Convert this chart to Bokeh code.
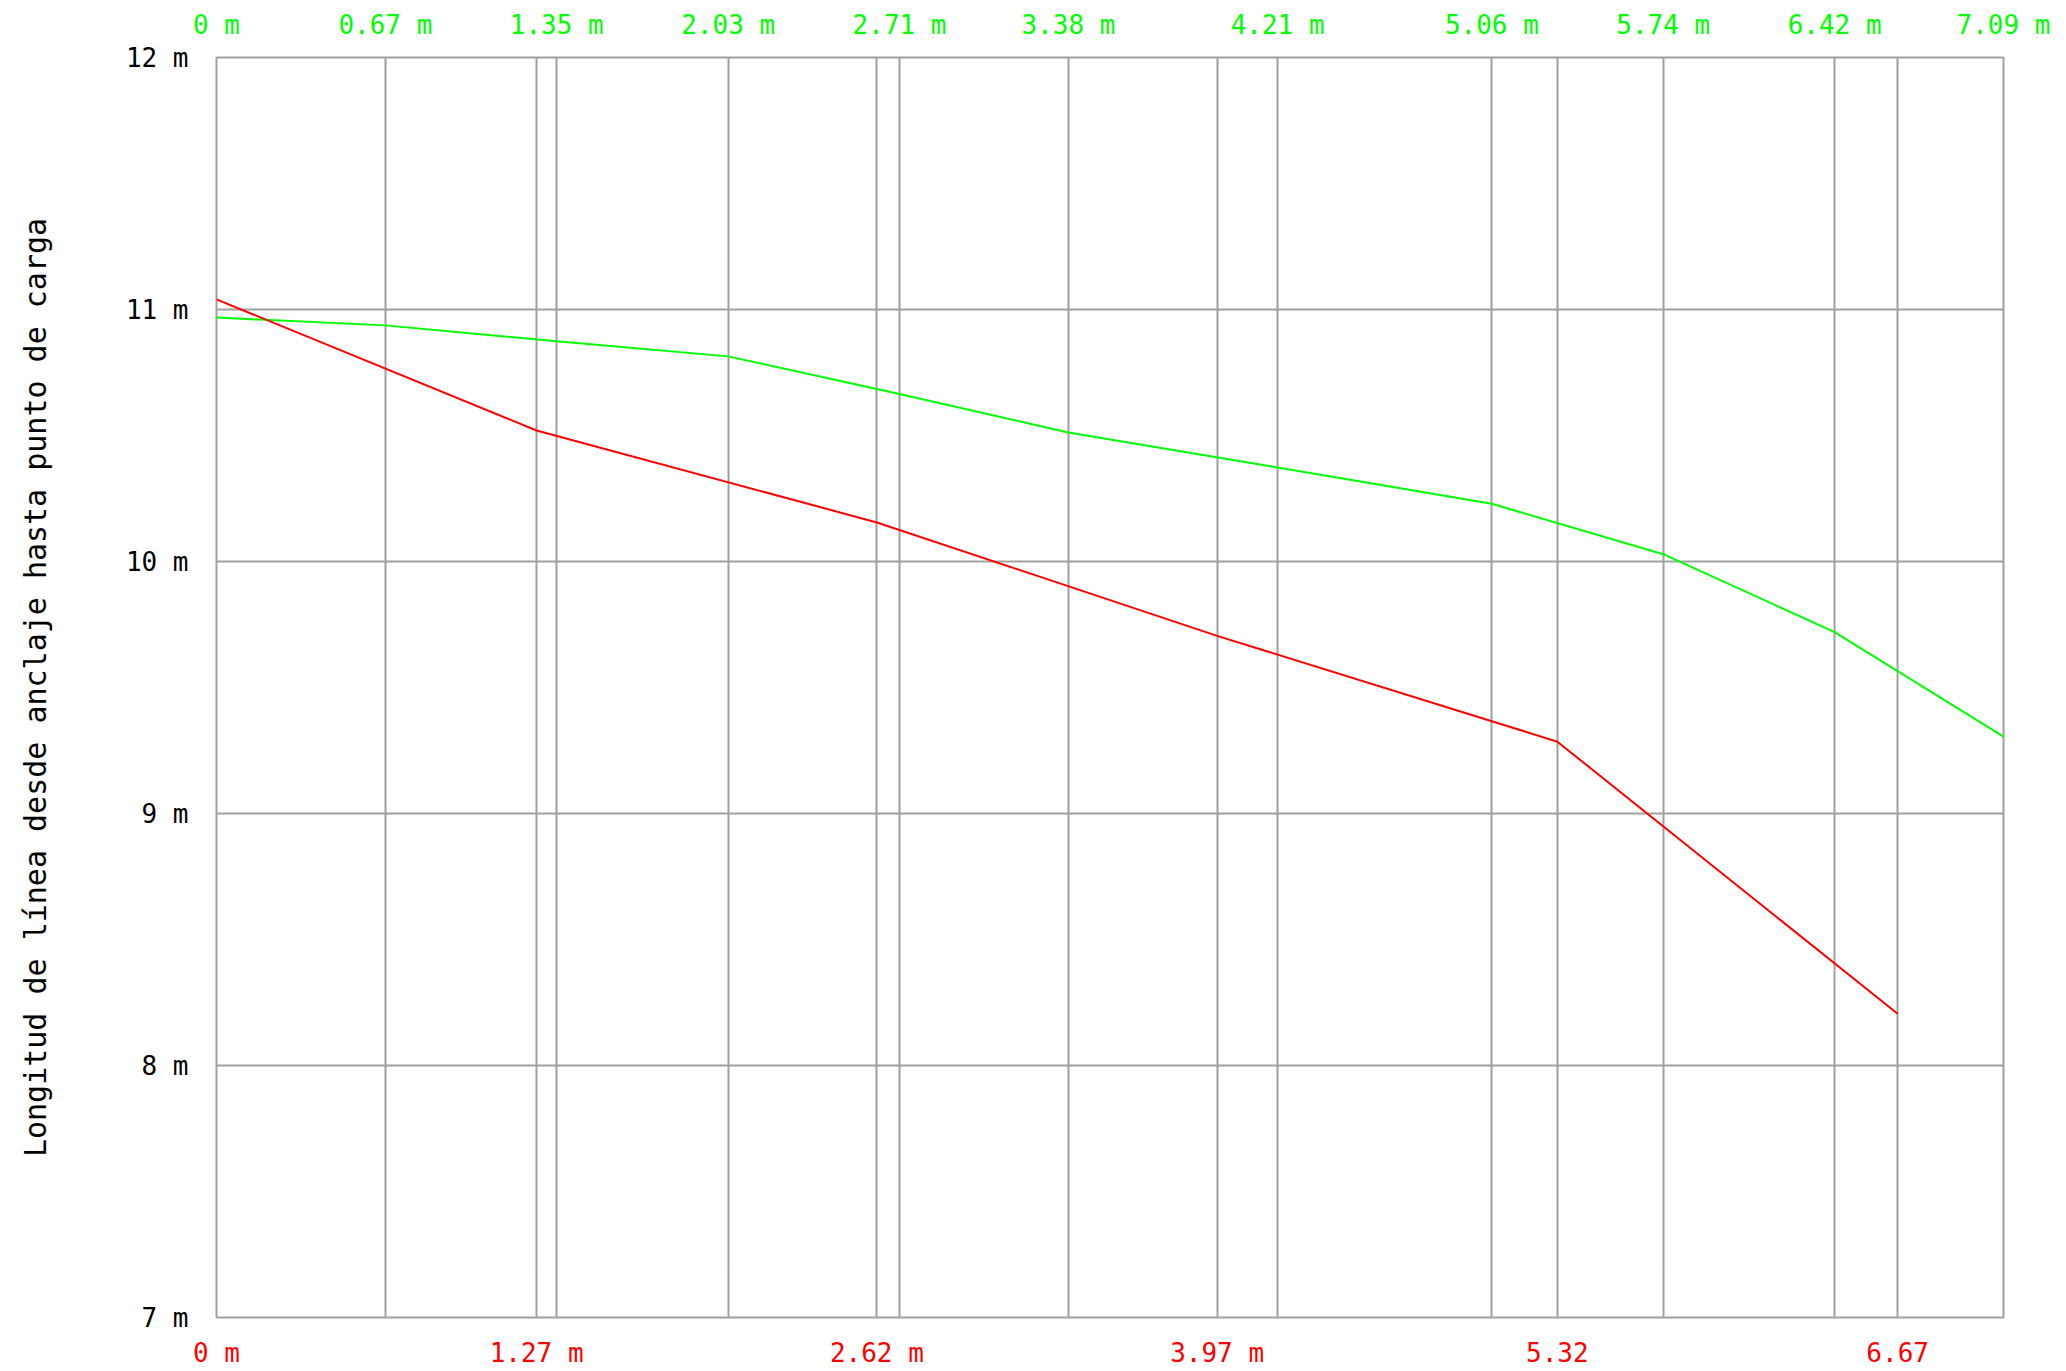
from bokeh.plotting import figure
from bokeh.models import Range1d, LinearAxis, FixedTicker
from bokeh.embed import file_html
from bokeh.resources import INLINE

# ---- data ----
y_ticks = [7, 8, 9, 10, 11, 12]
y_tick_labels = ["7 m", "8 m", "9 m", "10 m", "11 m", "12 m"]

red_x = [0, 1.27, 2.62, 3.97, 5.32, 6.67]
red_y = [11.04, 10.52, 10.155, 9.705, 9.285, 8.205]
red_tick_labels = ["0 m", "1.27 m", "2.62 m", "3.97 m", "5.32", "6.67"]

green_x = [0, 0.67, 1.35, 2.03, 2.71, 3.38, 4.21, 5.06, 5.74, 6.42, 7.09]
green_y = [10.968, 10.937, 10.874, 10.814, 10.665, 10.512, 10.373, 10.229, 10.029, 9.72, 9.305]
green_tick_labels = ["0 m", "0.67 m", "1.35 m", "2.03 m", "2.71 m", "3.38 m",
                     "4.21 m", "5.06 m", "5.74 m", "6.42 m", "7.09 m"]

y_title = "Longitud de línea desde anclaje hasta punto de carga"

GRID = "#a0a0a0"
FONT = "DejaVu Sans Mono"

p = figure(width=2060, height=1370,
           x_range=Range1d(0, 7.09), y_range=Range1d(7, 12),
           output_backend="svg", toolbar_location=None,
           x_axis_location=None, y_axis_location="left",
           min_border_left=216, min_border_right=57,
           min_border_top=57, min_border_bottom=52)

p.background_fill_color = "white"
p.border_fill_color = "white"
p.outline_line_color = GRID
p.outline_line_width = 2

# grids
p.xgrid.ticker = FixedTicker(ticks=sorted(set(red_x + green_x)))
p.xgrid.grid_line_color = GRID
p.xgrid.grid_line_width = 2
p.ygrid.ticker = FixedTicker(ticks=y_ticks)
p.ygrid.grid_line_color = GRID
p.ygrid.grid_line_width = 2

def style_axis(ax, color, size="26px"):
    ax.axis_line_color = None
    ax.major_tick_line_color = None
    ax.minor_tick_line_color = None
    ax.major_tick_out = 0
    ax.major_tick_in = 0
    ax.minor_tick_out = 0
    ax.minor_tick_in = 0
    ax.major_label_text_font = FONT
    ax.major_label_text_font_size = size
    ax.major_label_text_color = color

# left axis
yax = p.yaxis[0]
yax.ticker = FixedTicker(ticks=y_ticks)
yax.major_label_overrides = {t: l for t, l in zip(y_ticks, y_tick_labels)}
style_axis(yax, "black")
yax.major_label_standoff = 28
yax.axis_label = y_title
yax.axis_label_text_font = FONT
yax.axis_label_text_font_size = "30px"
yax.axis_label_text_font_style = "normal"
yax.axis_label_text_color = "black"
yax.axis_label_standoff = 70

# top (green) axis
top = LinearAxis(ticker=FixedTicker(ticks=green_x))
top.major_label_overrides = {t: l for t, l in zip(green_x, green_tick_labels)}
style_axis(top, "#00ff00")
top.major_label_standoff = 18
p.add_layout(top, "above")

# bottom (red) axis
bot = LinearAxis(ticker=FixedTicker(ticks=red_x))
bot.major_label_overrides = {t: l for t, l in zip(red_x, red_tick_labels)}
style_axis(bot, "#ff0000")
bot.major_label_standoff = 20
p.add_layout(bot, "below")

# series
p.line(green_x, green_y, line_color="#00ff00", line_width=2)
p.line(red_x, red_y, line_color="#ff0000", line_width=2)

open("out.html", "w").write(file_html(p, INLINE))
